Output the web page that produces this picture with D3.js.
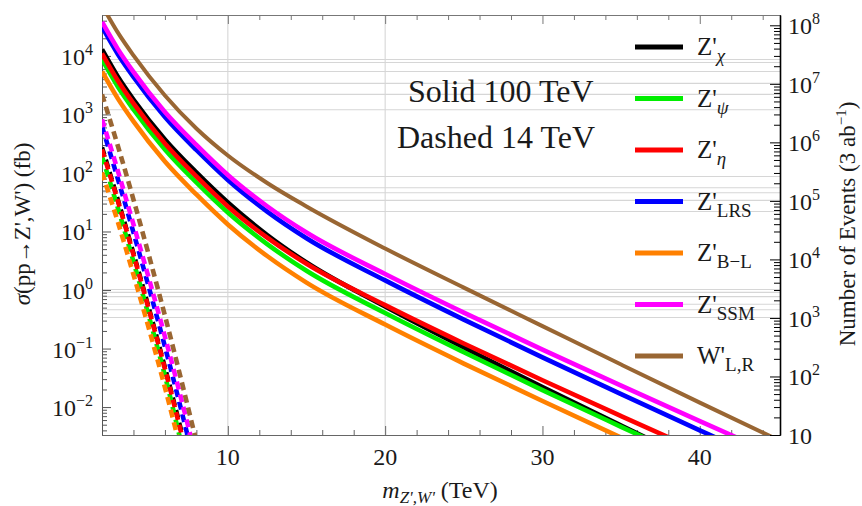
<!DOCTYPE html>
<html><head><meta charset="utf-8">
<script src="https://cdn.jsdelivr.net/npm/d3@7"></script>
<style>
body{margin:0;background:#fff}
svg{display:block}
text{font-family:"Liberation Serif","Times New Roman",serif;fill:#1a1a1a}
</style>
</head><body>
<svg id="chart" width="862" height="506"></svg>
<script>
// ---------- data (cross sections in fb) ----------
const masses100 = [2, 3, 4, 6, 8, 10, 12.5, 15, 20, 25, 30, 35, 40, 45];
const sigChi100 = [1.29e4, 4.46e3, 1.80e3, 374, 102, 31.3, 8.71, 2.95, 0.522, 0.104, 0.0220, 0.00483, 0.00108, 0.000247];
const sigPsi100 = [8.71e3, 3.01e3, 1.22e3, 252, 68.8, 21.1, 6.09, 2.13, 0.404, 0.0863, 0.0195, 0.00460, 0.00110, 0.000270];
const sigEta100 = [1.10e4, 3.81e3, 1.54e3, 319, 87.1, 26.8, 7.85, 2.81, 0.552, 0.122, 0.0287, 0.00702, 0.00175, 0.000445];
const sigLRS100 = [3.13e4, 1.08e4, 4.38e3, 906, 247, 75.9, 21.9, 7.68, 1.46, 0.312, 0.0707, 0.0167, 0.00401, 0.000984];
const sigBL100  = [5.43e3, 1.88e3, 759, 157, 42.9, 13.2, 3.81, 1.34, 0.257, 0.0554, 0.0127, 0.00301, 0.00073, 0.00018];
const sigSSM100 = [3.81e4, 1.32e4, 5.33e3, 1.10e3, 301, 92.4, 27.0, 9.61, 1.88, 0.412, 0.0961, 0.0233, 0.00576, 0.00145];
const sigW100   = [7.30e4, 2.52e4, 1.02e4, 2.11e3, 576, 199, 67.5, 26.8, 5.12, 1.10, 0.242, 0.0533, 0.0119, 0.00273];

const masses14 = [2, 3, 4, 5, 6, 7, 8];
const sigChi14 = [273, 35.2, 4.21, 0.464, 0.0473, 0.00429, 0.000345];
const sigPsi14 = [191, 25.7, 3.07, 0.339, 0.0345, 0.00268, 0.000215];
const sigEta14 = [252, 33.9, 4.04, 0.446, 0.0455, 0.00397, 0.00032];
const sigLRS14 = [624, 80.5, 9.62, 1.06, 0.108, 0.0098, 0.00079];
const sigBL14  = [102, 14.8, 1.84, 0.211, 0.0216, 0.00188, 0.000145];
const sigSSM14 = [822, 110, 13.2, 1.51, 0.160, 0.0151, 0.00127];
const sigW14   = [2.20e3, 295, 35.2, 3.74, 0.366, 0.0319, 0.00257];

const seriesPrefix = ["Z'", "Z'", "Z'", "Z'", "Z'", "Z'", "W'"];
const seriesSub    = ["χ", "ψ", "η", "LRS", "B−L", "SSM", "L,R"];
const seriesSubItalic = [true, true, true, false, false, false, false];
const seriesColors = ["#000000", "#00ee00", "#ff0000", "#0000ff", "#ff8000", "#ff00ff", "#996633"];
const series100 = [sigChi100, sigPsi100, sigEta100, sigLRS100, sigBL100, sigSSM100, sigW100];
const series14  = [sigChi14, sigPsi14, sigEta14, sigLRS14, sigBL14, sigSSM14, sigW14];

const gridSigma = [8.7e3, 7.7e3, 5.4e3, 3.4e3, 2.2e3, 1.2e3, 87, 56, 46, 34, 22, 1.02, 0.91, 0.77, 0.57, 0.46, 0.34];
const gridMass = [10, 20];
const xTickLabels = [10, 20, 30, 40];
const leftDecades = [-2, -1, 0, 1, 2, 3, 4];
const rightDecades = [1, 2, 3, 4, 5, 6, 7, 8];
const luminosity = 3000; // fb^-1 (3 ab^-1)

// ---------- layout ----------
const svg = d3.select("#chart");
const L = 102, R = 780, T = 15, B = 435;
const x = d3.scaleLinear().domain([2, 45.1]).range([L, R]);
const y = d3.scaleLog().domain([10 / luminosity, 5e4]).range([B, T]);
const yR = d3.scaleLog().domain([10, 5e4 * luminosity]).range([B, T]);

svg.append("defs").append("clipPath").attr("id", "clip")
  .append("rect").attr("x", L).attr("y", T).attr("width", R - L).attr("height", B - T);

// gridlines
svg.append("g").selectAll("line").data(gridSigma).join("line")
  .attr("x1", L).attr("x2", R).attr("y1", d => y(d)).attr("y2", d => y(d))
  .attr("stroke", "#d6d6d6").attr("stroke-width", 1.1);
svg.append("g").selectAll("line").data(gridMass).join("line")
  .attr("y1", T).attr("y2", B).attr("x1", d => x(d)).attr("x2", d => x(d))
  .attr("stroke", "#d6d6d6").attr("stroke-width", 1.1);

// axes (ticks)
function styleAxis(g, col) {
  g.select(".domain").attr("stroke", col);
  g.selectAll(".tick line").attr("stroke", col);
  g.selectAll(".tick text").remove();
}
const minorX = d3.range(4, 45, 2).filter(v => v % 10 !== 0);
svg.append("g").attr("transform", `translate(0,${B})`)
  .call(d3.axisBottom(x).tickValues(minorX).tickSize(-5).tickSizeOuter(0)).call(g => styleAxis(g, "#666"));
svg.append("g").attr("transform", `translate(0,${B})`)
  .call(d3.axisBottom(x).tickValues(xTickLabels).tickSize(-9).tickSizeOuter(0)).call(g => styleAxis(g, "#666"));
svg.append("g").attr("transform", `translate(0,${T})`)
  .call(d3.axisTop(x).tickValues(minorX).tickSize(-5).tickSizeOuter(0)).call(g => styleAxis(g, "#777"));
svg.append("g").attr("transform", `translate(0,${T})`)
  .call(d3.axisTop(x).tickValues(xTickLabels).tickSize(-9).tickSizeOuter(0)).call(g => styleAxis(g, "#777"));

const minorLeft = [];
for (let e = -3; e <= 4; e++) for (let k = 2; k <= 9; k++) { const v = k * Math.pow(10, e); if (v > y.domain()[0] && v < y.domain()[1]) minorLeft.push(v); }
svg.append("g").attr("transform", `translate(${L},0)`)
  .call(d3.axisLeft(y).tickValues(minorLeft).tickSize(-5).tickSizeOuter(0)).call(g => styleAxis(g, "#555"));
svg.append("g").attr("transform", `translate(${L},0)`)
  .call(d3.axisLeft(y).tickValues(leftDecades.map(e => Math.pow(10, e))).tickSize(-9).tickSizeOuter(0)).call(g => styleAxis(g, "#555"));

const minorRight = [];
for (let e = 1; e <= 8; e++) for (let k = 2; k <= 9; k++) { const v = k * Math.pow(10, e); if (v > yR.domain()[0] && v < yR.domain()[1]) minorRight.push(v); }
svg.append("g").attr("transform", `translate(${R},0)`)
  .call(d3.axisRight(yR).tickValues(minorRight).tickSize(-6).tickSizeOuter(0)).call(g => styleAxis(g, "#000"));
svg.append("g").attr("transform", `translate(${R},0)`)
  .call(d3.axisRight(yR).tickValues(rightDecades.map(e => Math.pow(10, e))).tickSize(-10).tickSizeOuter(0))
  .call(g => styleAxis(g, "#000")).call(g => g.select(".domain").attr("stroke-width", 1.6));

// curves
const line = d3.line().curve(d3.curveMonotoneX);
const plot = svg.append("g").attr("clip-path", "url(#clip)");
series100.forEach((s, i) => {
  plot.append("path")
    .attr("d", line(masses100.map((m, j) => [x(m), y(s[j])])))
    .attr("fill", "none").attr("stroke", seriesColors[i])
    .attr("stroke-width", i === 6 ? 4 : 4.6);
});
series14.forEach((s, i) => {
  plot.append("path")
    .attr("d", line(masses14.map((m, j) => [x(m), y(s[j])])))
    .attr("fill", "none").attr("stroke", seriesColors[i])
    .attr("stroke-width", 4.6).attr("stroke-dasharray", "8,5");
});

// tick labels
const tfs = 24, sfs = 16;
xTickLabels.forEach(v => {
  svg.append("text").attr("x", x(v)).attr("y", 465).attr("text-anchor", "middle")
    .attr("font-size", tfs).text(v);
});
leftDecades.forEach(e => {
  const t = svg.append("text").attr("x", 93).attr("y", y(Math.pow(10, e)) + 9)
    .attr("text-anchor", "end").attr("font-size", tfs);
  t.append("tspan").text("10");
  t.append("tspan").attr("dy", -10).attr("font-size", sfs).text(e < 0 ? "−" + (-e) : e);
});
rightDecades.forEach(e => {
  const t = svg.append("text").attr("x", 788).attr("y", yR(Math.pow(10, e)) + 9)
    .attr("font-size", tfs);
  t.append("tspan").text("10");
  if (e !== 1) t.append("tspan").attr("dy", -10).attr("font-size", sfs).text(e);
});

// axis titles
const xl = svg.append("text").attr("x", 440).attr("y", 498).attr("text-anchor", "middle").attr("font-size", 24);
xl.append("tspan").attr("font-style", "italic").text("m");
xl.append("tspan").attr("font-style", "italic").attr("font-size", 17).attr("dy", 5).text("Z',W'");
xl.append("tspan").attr("dy", -5).text(" (TeV)");

const yl = svg.append("text").attr("transform", "translate(30,224) rotate(-90)")
  .attr("text-anchor", "middle").attr("font-size", 23);
yl.append("tspan").attr("font-style", "italic").text("σ");
yl.append("tspan").text("(pp→Z',W') (fb)");

const yrl = svg.append("text").attr("transform", "translate(855,224) rotate(-90)")
  .attr("text-anchor", "middle").attr("font-size", 23);
yrl.append("tspan").text("Number of Events (3 ab");
yrl.append("tspan").attr("dy", -9).attr("font-size", 15).text("−1");
yrl.append("tspan").attr("dy", 9).text(")");

// annotations
svg.append("text").attr("x", 408).attr("y", 102).attr("font-size", 32).text("Solid 100 TeV");
svg.append("text").attr("x", 397).attr("y", 148).attr("font-size", 32).text("Dashed 14 TeV");

// legend
const legY0 = 47, legDy = 51.5;
seriesPrefix.forEach((p, i) => {
  const ly = legY0 + i * legDy;
  svg.append("line").attr("x1", 635).attr("x2", 683).attr("y1", ly).attr("y2", ly)
    .attr("stroke", seriesColors[i]).attr("stroke-width", 5);
  const t = svg.append("text").attr("x", 697).attr("y", ly + 8).attr("font-size", 25);
  t.append("tspan").text(p);
  t.append("tspan").attr("dy", 7).attr("font-size", 19)
    .attr("font-style", seriesSubItalic[i] ? "italic" : "normal").text(seriesSub[i]);
});
</script>
</body></html>
